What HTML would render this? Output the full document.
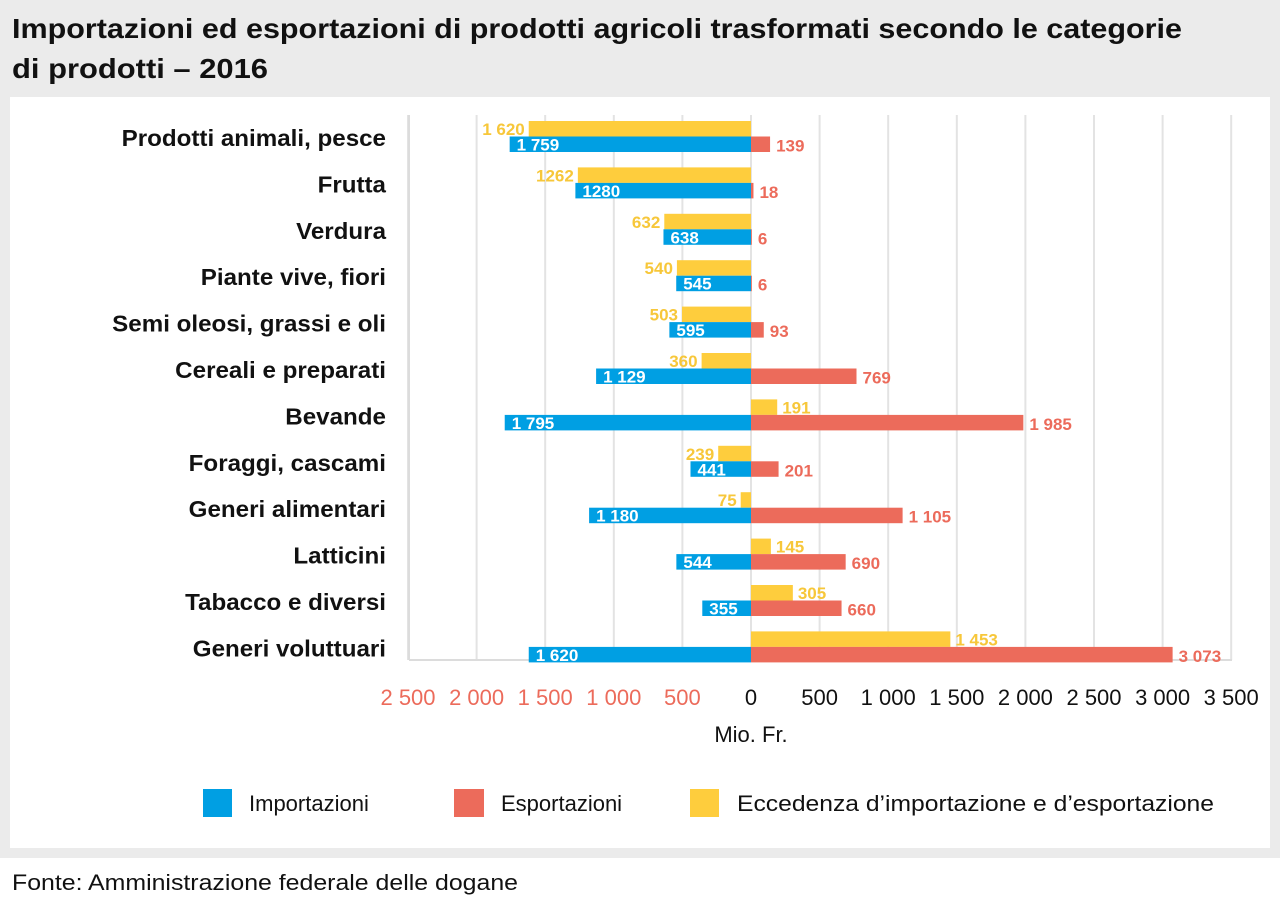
<!DOCTYPE html>
<html><head><meta charset="utf-8"><style>
body{margin:0;background:#ebebeb;}
svg{display:block;font-family:"Liberation Sans Narrow","Liberation Sans",sans-serif;}
</style></head><body>
<svg id="c" width="1280" height="908" xmlns="http://www.w3.org/2000/svg">
<rect x="0" y="0" width="1280" height="908" fill="#ebebeb"/>
<rect x="10" y="97" width="1260" height="751" fill="#fff"/>
<rect x="0" y="858" width="1280" height="50" fill="#fff"/>
<text x="12" y="38" font-size="28" font-weight="bold" fill="#111" textLength="1170" lengthAdjust="spacingAndGlyphs">Importazioni ed esportazioni di prodotti agricoli trasformati secondo le categorie</text>
<text x="12" y="78" font-size="28" font-weight="bold" fill="#111" textLength="256" lengthAdjust="spacingAndGlyphs">di prodotti – 2016</text>
<g id="grid"></g>
<g id="bars"></g>
<text x="751" y="742" font-size="22" text-anchor="middle" fill="#111">Mio. Fr.</text>
<g>
<rect x="203" y="789" width="29" height="28" fill="#009fe3"/>
<text x="249" y="811" font-size="22" fill="#111">Importazioni</text>
<rect x="454" y="789" width="30" height="28" fill="#ec6b5b"/>
<text x="501" y="811" font-size="22" fill="#111">Esportazioni</text>
<rect x="690" y="789" width="29" height="28" fill="#fecd3d"/>
<text x="737" y="811" font-size="22" fill="#111" textLength="477" lengthAdjust="spacingAndGlyphs">Eccedenza d’importazione e d’esportazione</text>
</g>
<text x="12" y="890" font-size="22" fill="#111" textLength="506" lengthAdjust="spacingAndGlyphs">Fonte: Amministrazione federale delle dogane</text>
</svg>
<script>
const categories=["Prodotti animali, pesce","Frutta","Verdura","Piante vive, fiori","Semi oleosi, grassi e oli","Cereali e preparati","Bevande","Foraggi, cascami","Generi alimentari","Latticini","Tabacco e diversi","Generi voluttuari"];
const imports=[1759,1280,638,545,595,1129,1795,441,1180,544,355,1620];
const exportsV=[139,18,6,6,93,769,1985,201,1105,690,660,3073];
const balance=[-1620,-1262,-632,-540,-503,-360,191,-239,-75,145,305,1453];
const importLabels=["1 759","1280","638","545","595","1 129","1 795","441","1 180","544","355","1 620"];
const exportLabels=["139","18","6","6","93","769","1 985","201","1 105","690","660","3 073"];
const balanceLabels=["1 620","1262","632","540","503","360","191","239","75","145","305","1 453"];
const ticks=[-2500,-2000,-1500,-1000,-500,0,500,1000,1500,2000,2500,3000,3500];
const tickLabels=["2 500","2 000","1 500","1 000","500","0","500","1 000","1 500","2 000","2 500","3 000","3 500"];

const NS="http://www.w3.org/2000/svg";
const x0=751, k=68.6/500;
const xs=v=>x0+v*k;
const rowTop=i=>121+i*46.4;
const BH=15.5;
function mk(tag,attrs,parent,txt){const e=document.createElementNS(NS,tag);for(const a in attrs)e.setAttribute(a,attrs[a]);if(txt!==undefined)e.textContent=txt;parent.appendChild(e);return e;}
const grid=document.getElementById('grid'), bars=document.getElementById('bars');
ticks.forEach((t,i)=>{
  const g=mk('line',{x1:xs(t),x2:xs(t),y1:115,y2:660,stroke:'#e3e3e3','stroke-width':2},grid);
  
  
  const tl=mk('text',{x:xs(t),y:705,'font-size':22,'text-anchor':'middle',fill:t<0?'#ec6b5b':'#111'},grid,tickLabels[i]);
  
  
});
const ax=mk('line',{x1:409,x2:1232,y1:660,y2:660,stroke:'#dcdcdc','stroke-width':2},grid);


const ay=mk('line',{x1:409,x2:409,y1:115,y2:660,stroke:'#dcdcdc','stroke-width':2},grid);


categories.forEach((c,i)=>{
  const top=rowTop(i);
  const cl=mk('text',{x:386,y:top+25,'font-size':23,'font-weight':'bold','text-anchor':'end',fill:'#111'},bars,c);
  
  
  const w=cl.getComputedTextLength();
  cl.setAttribute('textLength',(w*1.05).toFixed(1));
  cl.setAttribute('lengthAdjust','spacingAndGlyphs');
  const b=balance[i], bx=Math.min(xs(0),xs(b)), bw=Math.abs(xs(b)-xs(0));
  const yb=mk('rect',{x:bx,y:top,width:bw,height:BH,fill:'#fecd3d'},bars);
  
  
  const yl=mk('text',{x:b<0?xs(b)-4:xs(b)+5,y:top+14,'font-size':17,'font-weight':'bold','text-anchor':b<0?'end':'start',fill:'#f7c73a'},bars,balanceLabels[i]);
  
  
  const im=mk('rect',{x:xs(-imports[i]),y:top+BH,width:xs(0)-xs(-imports[i]),height:BH,fill:'#009fe3'},bars);
  
  
  const il=mk('text',{x:xs(-imports[i])+7,y:top+BH+14,'font-size':17,'font-weight':'bold',fill:'#fff'},bars,importLabels[i]);
  
  
  const ex=mk('rect',{x:xs(0),y:top+BH,width:xs(exportsV[i])-xs(0),height:BH,fill:'#ec6b5b'},bars);
  
  
  const el=mk('text',{x:xs(exportsV[i])+6,y:top+BH+15,'font-size':17,'font-weight':'bold',fill:'#ec6b5b'},bars,exportLabels[i]);
  
  
});
</script>
</body></html>
